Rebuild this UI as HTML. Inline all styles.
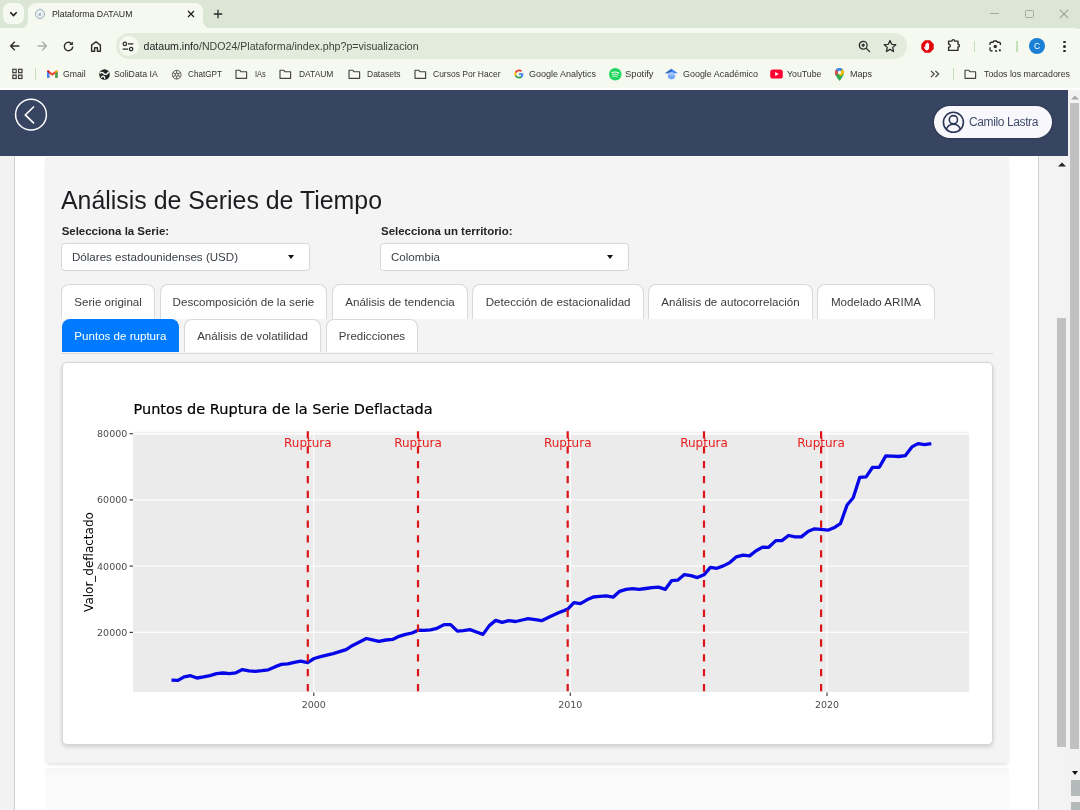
<!DOCTYPE html>
<html lang="es">
<head>
<meta charset="utf-8">
<title>Plataforma DATAUM</title>
<style>
*{box-sizing:border-box;margin:0;padding:0}
html,body{width:1080px;height:810px;overflow:hidden;background:#fff}
body{position:relative;font-family:"Liberation Sans",sans-serif;color:#212529}
.abs{position:absolute}
.ic{position:absolute;overflow:visible}
/* ---------- browser chrome ---------- */
#tabstrip{left:0;top:0;width:1080px;height:29px;background:#dce6d5}
#tabsearch{left:3px;top:3px;width:21px;height:21px;border-radius:7px;background:#f6f9ef}
#tab{left:28px;top:3px;width:175px;height:26px;background:#f6f9ef;border-radius:8px 8px 0 0}
#tab:before,#tab:after{content:"";position:absolute;bottom:0;width:8px;height:8px}
#tab:before{left:-8px;background:radial-gradient(circle at 0 0,rgba(246,249,239,0) 7.5px,#f6f9ef 8px)}
#tab:after{right:-8px;background:radial-gradient(circle at 100% 0,rgba(246,249,239,0) 7.5px,#f6f9ef 8px)}
#tabtitle{left:52.3px;top:8.2px;transform-origin:0 50%;font-size:9.4px;line-height:11px;color:#1f1f1f;white-space:nowrap}
#toolbar{left:0;top:28px;width:1080px;height:36px;background:#f6f9ef;border-radius:0 5px 0 0}
#urlpill{left:115.5px;top:33px;width:791px;height:26px;border-radius:13px;background:#e3ebdc}
#siteinfo{left:118.5px;top:36px;width:20px;height:20px;border-radius:10px;background:#f6f9ef}
#url{left:143.5px;top:40px;font-size:10.62px;line-height:12px;color:#1f1f1f;white-space:nowrap}
#url span{color:#3d423c}
#bmbar{left:0;top:63px;width:1080px;height:26px;background:#f6f9ef}
#bmline{left:0;top:87.7px;width:1080px;height:2.3px;background:#fdfefd}
.bm{position:absolute;top:68.2px;transform-origin:0 50%;font-size:9.3px;line-height:11px;color:#333;white-space:nowrap}
/* ---------- page ---------- */
#nav{left:0;top:89.7px;width:1068px;height:66.1px;background:#374563}
#sbar-out{left:1068px;top:90px;width:12px;height:720px;background:#f2f2f2}
#leftstrip{left:0;top:156px;width:15px;height:654px;background:#f2f2f2;border-right:1px solid #cfcfcf}
#below{left:44.6px;top:768px;width:964.2px;height:42px;background:linear-gradient(#f7f7f7,#fbfbfb 12px)}
#panel{left:44.6px;top:157px;width:964.2px;height:605.6px;background:#f4f4f4;box-shadow:0 3px 4px -2px rgba(0,0,0,.16)}
#sbar-in{left:1038px;top:156px;width:30px;height:654px;background:#f3f3f3;border-left:1px solid #cfd3d3}
.thumb{position:absolute;background:#c1c1c1}
h1{left:61px;top:185.4px;font-size:24.9px;font-weight:400;color:#1b1d20;white-space:nowrap;line-height:30px}
.lbl{position:absolute;top:224.6px;font-size:11.45px;line-height:13px;font-weight:700;color:#212529;white-space:nowrap}
.sel{position:absolute;top:243.4px;width:248.5px;height:27.7px;background:#fff;border:1px solid #d3d6da;border-radius:3.5px;font-size:11.58px;line-height:26.2px;padding-left:10px;color:#3a4047}
.sel i{position:absolute;right:14.5px;top:10.6px;border:3.7px solid transparent;border-top:4px solid #111;border-bottom:0}
.tab{position:absolute;height:35px;background:#fff;border:1px solid #d9d9d9;border-bottom:0;border-radius:8px 8px 0 0;font-size:11.58px;line-height:34.2px;text-align:center;color:#3c3c3c;white-space:nowrap}
.tab.on{background:#007bff;border-color:#007bff;color:#fff}
#tabline{left:61px;top:352.5px;width:931.5px;height:1px;background:#dadada}
#card{left:61.5px;top:362px;width:931.3px;height:383px;background:#fff;border:1px solid #d6d6d6;border-radius:5px;box-shadow:0 2px 4px rgba(0,0,0,.16)}
</style>
</head>
<body>
<!-- browser chrome -->
<div id="tabstrip" class="abs"></div>
<div id="tabsearch" class="abs"></div>
<div id="tab" class="abs"></div>
<div id="tabtitle" class="abs" style="font-size:9.5px;transform:scaleX(0.9223)">Plataforma DATAUM</div>
<div id="toolbar" class="abs"></div>
<div id="urlpill" class="abs"></div>
<div id="siteinfo" class="abs"></div>
<div id="url" class="abs">dataum.info<span>/NDO24/Plataforma/index.php?p=visualizacion</span></div>
<div id="bmbar" class="abs"></div>
<div id="bmline" class="abs"></div>
<div class="bm" style="left:62.8px;font-size:9.5px;transform:scaleX(0.9149)">Gmail</div>
<div class="bm" style="left:114.4px;font-size:9.5px;transform:scaleX(0.9215)">SoliData IA</div>
<div class="bm" style="left:187.8px;font-size:9.5px;transform:scaleX(0.8584)">ChatGPT</div>
<div class="bm" style="left:254.9px;font-size:9.5px;transform:scaleX(0.7791)">IAs</div>
<div class="bm" style="left:298.9px;font-size:9.5px;transform:scaleX(0.8888)">DATAUM</div>
<div class="bm" style="left:366.5px;font-size:9.5px;transform:scaleX(0.8933)">Datasets</div>
<div class="bm" style="left:432.5px;font-size:9.5px;transform:scaleX(0.894)">Cursos Por Hacer</div>
<div class="bm" style="left:529px;font-size:9.5px;transform:scaleX(0.9468)">Google Analytics</div>
<div class="bm" style="left:625px;font-size:9.5px;transform:scaleX(0.9812)">Spotify</div>
<div class="bm" style="left:682.5px;font-size:9.5px;transform:scaleX(0.9404)">Google Académico</div>
<div class="bm" style="left:786.5px;font-size:9.5px;transform:scaleX(0.9238)">YouTube</div>
<div class="bm" style="left:850px;font-size:9.5px;transform:scaleX(0.9469)">Maps</div>
<div class="bm" style="left:984px;font-size:9.5px;transform:scaleX(0.9254)">Todos los marcadores</div>
<svg class="ic" style="left:12px;top:68px" width="11" height="12" viewBox="0 0 11 12"><g fill="none" stroke="#3a3a3a" stroke-width="1.2"><rect x=".8" y="1.3" width="3.4" height="3.4"/><rect x="6.6" y="1.3" width="3.4" height="3.4"/><rect x=".8" y="7.1" width="3.4" height="3.4"/><rect x="6.6" y="7.1" width="3.4" height="3.4"/></g></svg>
<div class="abs" style="left:35px;top:68px;width:1.3px;height:11.5px;background:#c4e2b8"></div>
<div class="abs" style="left:952.5px;top:68px;width:1.3px;height:11.5px;background:#c4e2b8"></div>
<svg class="ic" style="left:46.6px;top:69.8px" width="10.6" height="8.2" viewBox="0 0 11 9" preserveAspectRatio="none"><path d="M0 8.5V1.2L1.2 .3 5.5 3.6 9.8 .3 11 1.2V8.5H8.6V3.9L5.5 6.2 2.4 3.9V8.5z" fill="#ea4335"/><path d="M0 8.5V1.6L2.4 3.9V8.5z" fill="#4285f4"/><path d="M11 8.5V1.6L8.6 3.9V8.5z" fill="#34a853"/><path d="M8.6 3.9 11 1.6V1.2L9.8 .3 8.6 1.2z" fill="#fbbc04"/><path d="M2.4 3.9 0 1.6V1.2L1.2 .3 2.4 1.2z" fill="#c5221f"/></svg>
<svg class="ic" style="left:98.7px;top:68.7px" width="11" height="11" viewBox="0 0 11 11"><circle cx="5.5" cy="5.5" r="5.3" fill="#222426"/><path d="M1.3 3.9c1.3-.9 2.7-.4 3.3.5.6 1 1.7 1.3 3 .7.7-.3 1.3-.9 1.7-1.7" fill="none" stroke="#f6f9ef" stroke-width="1.5" stroke-linecap="round"/><path d="M2.5 8.3c.5-.9 1.3-1.2 2.2-.9.8.3 1.2 1 1 1.9" fill="none" stroke="#f6f9ef" stroke-width="1.3" stroke-linecap="round"/></svg>
<svg class="ic" style="left:171.3px;top:68.5px" width="11.4" height="11.4" viewBox="0 0 12 12"><g fill="none" stroke="#555" stroke-width="1"><circle cx="6" cy="6" r="4.6"/><path d="M6 1.4v3.2M10 3.7 7.2 5.3M10 8.3 7.2 6.7M6 10.6V7.4M2 8.3 4.8 6.7M2 3.7 4.8 5.3"/><circle cx="6" cy="6" r="1.7"/></g></svg>
<svg class="ic" style="left:235.2px;top:67.5px" width="13" height="12" viewBox="0 0 13 12"><path d="M1 2.2h3.6l1.3 1.5H11.6v6.6H1z" fill="none" stroke="#444" stroke-width="1.15" stroke-linejoin="round"/></svg>
<svg class="ic" style="left:279.4px;top:67.5px" width="13" height="12" viewBox="0 0 13 12"><path d="M1 2.2h3.6l1.3 1.5H11.6v6.6H1z" fill="none" stroke="#444" stroke-width="1.15" stroke-linejoin="round"/></svg>
<svg class="ic" style="left:347.5px;top:67.5px" width="13" height="12" viewBox="0 0 13 12"><path d="M1 2.2h3.6l1.3 1.5H11.6v6.6H1z" fill="none" stroke="#444" stroke-width="1.15" stroke-linejoin="round"/></svg>
<svg class="ic" style="left:414px;top:67.5px" width="13" height="12" viewBox="0 0 13 12"><path d="M1 2.2h3.6l1.3 1.5H11.6v6.6H1z" fill="none" stroke="#444" stroke-width="1.15" stroke-linejoin="round"/></svg>
<svg class="ic" style="left:964px;top:67.5px" width="13" height="12" viewBox="0 0 13 12"><path d="M1 2.2h3.6l1.3 1.5H11.6v6.6H1z" fill="none" stroke="#444" stroke-width="1.15" stroke-linejoin="round"/></svg>
<svg class="ic" style="left:513.5px;top:69px" width="10" height="10" viewBox="0 0 48 48"><path fill="#4285f4" d="M45.1 24.5c0-1.6-.1-3.1-.4-4.5H24v8.5h11.8c-.5 2.8-2.1 5.1-4.4 6.7v5.5h7.1c4.2-3.8 6.6-9.5 6.6-16.2z"/><path fill="#34a853" d="M24 46c5.9 0 10.9-2 14.5-5.3l-7.1-5.5c-2 1.3-4.5 2.1-7.4 2.1-5.7 0-10.5-3.8-12.3-9H4.4v5.7C8 41.1 15.4 46 24 46z"/><path fill="#fbbc05" d="M11.7 28.3c-.4-1.3-.7-2.8-.7-4.3s.3-2.9.7-4.3V14H4.4C2.9 17 2 20.4 2 24s.9 7 2.4 10z"/><path fill="#ea4335" d="M24 10.7c3.2 0 6.1 1.1 8.4 3.3l6.3-6.3C34.9 4.2 29.9 2 24 2 15.4 2 8 6.9 4.4 14l7.3 5.7c1.8-5.2 6.6-9 12.3-9z"/></svg>
<svg class="ic" style="left:609px;top:67.5px" width="12.5" height="12.5" viewBox="0 0 12 12"><circle cx="6" cy="6" r="6" fill="#1ed760"/><g fill="none" stroke="#f6f9ef" stroke-linecap="round"><path d="M2.8 4.3c2.2-.7 4.6-.5 6.5.6" stroke-width="1.15"/><path d="M3.1 6.2c1.9-.6 3.9-.4 5.5.6" stroke-width=".95"/><path d="M3.4 8c1.5-.4 3-.3 4.3.5" stroke-width=".8"/></g></svg>
<svg class="ic" style="left:664.5px;top:68px" width="13" height="12" viewBox="0 0 13 12"><path d="M6.5 .8 0 5.3h13z" fill="#4285f4"/><path d="M6.5 .8 0 5.3h6.5z" fill="#356ac3"/><circle cx="6.5" cy="7.6" r="3.7" fill="#a0c3ff"/><path d="M2.8 7.6a3.7 3.7 0 0 0 7.4 0z" fill="#76a7fa"/></svg>
<svg class="ic" style="left:769.5px;top:69px" width="13" height="10" viewBox="0 0 13 10"><rect x=".2" y=".4" width="12.6" height="9.2" rx="2.6" fill="#f03"/><path d="M5.2 2.9v4.2L8.8 5z" fill="#fff"/></svg>
<svg class="ic" style="left:834.5px;top:67.5px" width="9" height="13" viewBox="0 0 9 13"><path d="M4.5 0C2 0 0 2 0 4.5 0 7.7 4.5 13 4.5 13S9 7.7 9 4.5C9 2 7 0 4.5 0z" fill="#34a853"/><path d="M4.5 0C2 0 0 2 0 4.5c0 .9.3 1.9.800 2.9L7.5 1.2A4.5 4.5 0 0 0 4.5 0z" fill="#4285f4"/><path d="M1.3 1.4A4.48 4.48 0 0 0 0 4.5c0 .9.3 1.9.800 2.9L3.4 4.9z" fill="#ea4335" opacity=".95"/><path d="M7.5 1.2 3 5.5l2.8 2.8C7.4 6.4 9 5.9 9 4.5c0-1.3-.6-2.5-1.5-3.3z" fill="#fbbc04"/><circle cx="4.5" cy="4.4" r="1.6" fill="#f6f9ef"/></svg>
<svg class="ic" style="left:930px;top:69.5px" width="10" height="8" viewBox="0 0 10 8"><path d="M1 .8 4.2 4 1 7.2M5.4 .8 8.6 4 5.4 7.2" fill="none" stroke="#444" stroke-width="1.2"/></svg>
<svg class="ic" style="left:9px;top:11px" width="9" height="6" viewBox="0 0 9 6"><path d="M1.3 1.3 4.5 4.5 7.7 1.3" fill="none" stroke="#1f1f1f" stroke-width="1.6"/></svg>
<svg class="ic" style="left:34px;top:7.5px" width="12" height="12" viewBox="0 0 12 12"><circle cx="6" cy="6" r="4.5" fill="#eaf1f3" stroke="#93a6b2" stroke-width=".9"/><path d="M6 .7v1M6 10.3v1" stroke="#93a6b2" stroke-width=".8"/><path d="M4.3 7.4c.1-1.6 1.2-2.6 2.7-2.5-.5.9-.4 1.7.3 2.5z" fill="#93a4ae"/></svg>
<svg class="ic" style="left:187px;top:10px" width="8" height="8" viewBox="0 0 8 8"><path d="M1 1 7 7M7 1 1 7" stroke="#1f1f1f" stroke-width="1.3"/></svg>
<svg class="ic" style="left:213px;top:8.8px" width="10" height="10" viewBox="0 0 10 10"><path d="M5 .8v8.4M.8 5h8.4" stroke="#2a2a2a" stroke-width="1.3"/></svg>
<div class="abs" style="left:990px;top:13.3px;width:9px;height:1.2px;background:#a3aca1"></div>
<div class="abs" style="left:1025px;top:9.8px;width:8.5px;height:8px;border:1.2px solid #a3aca1;border-radius:1.5px"></div>
<svg class="ic" style="left:1058.5px;top:9px" width="10" height="10" viewBox="0 0 10 10"><path d="M.8 .8 9.2 9.2M9.2 .8 .8 9.2" stroke="#99a297" stroke-width="1.1"/></svg>
<svg class="ic" style="left:9px;top:40px" width="12" height="12" viewBox="0 0 12 12"><path d="M10.3 6H1.8M5.8 1.8 1.6 6l4.2 4.2" fill="none" stroke="#2c2c2c" stroke-width="1.35"/></svg>
<svg class="ic" style="left:36px;top:40px" width="12" height="12" viewBox="0 0 12 12"><path d="M1.7 6h8.5M6.2 1.8 10.4 6 6.2 10.2" fill="none" stroke="#a9aea6" stroke-width="1.35"/></svg>
<svg class="ic" style="left:62px;top:39.5px" width="13" height="13" viewBox="0 0 13 13"><path d="M10.7 6.5a4.2 4.2 0 1 1-1.4-3.1" fill="none" stroke="#2c2c2c" stroke-width="1.4"/><path d="M10.9 1.5v3.6H7.3z" fill="#2c2c2c"/></svg>
<svg class="ic" style="left:90px;top:39.5px" width="12" height="13" viewBox="0 0 12 13"><path d="M1.6 11.3V5.1L6 1.7l4.4 3.4v6.2H7.4V7.8H4.6v3.5z" fill="none" stroke="#2c2c2c" stroke-width="1.4" stroke-linejoin="round"/></svg>
<svg class="ic" style="left:122px;top:40.5px" width="12" height="11" viewBox="0 0 12 11"><g fill="none" stroke="#2c2c2c" stroke-width="1.3"><circle cx="2.9" cy="2.9" r="1.7"/><path d="M6 2.9h5.3"/><circle cx="9.1" cy="8.1" r="1.7"/><path d="M.7 8.1H6"/></g></svg>
<svg class="ic" style="left:858px;top:39.5px" width="13" height="13" viewBox="0 0 13 13"><g fill="none" stroke="#2c2c2c" stroke-width="1.3"><circle cx="5.2" cy="5.2" r="3.9"/><path d="M8.1 8.1 12 12M3.4 5.2h3.6M5.2 3.4v3.6"/></g></svg>
<svg class="ic" style="left:882.5px;top:39px" width="14" height="14" viewBox="0 0 14 14"><path d="M7 1.5 8.7 5.3 12.8 5.7 9.7 8.4 10.6 12.5 7 10.4 3.4 12.5 4.3 8.4 1.2 5.7 5.3 5.3z" fill="none" stroke="#2c2c2c" stroke-width="1.25" stroke-linejoin="round"/></svg>
<svg class="ic" style="left:920.5px;top:39.5px" width="13" height="13" viewBox="0 0 13 13"><path d="M4 .3h5L12.7 4v5L9 12.7H4L.3 9V4z" fill="#e0060b"/><path d="M4.3 7.6V4.5c0-.7.9-.7.9 0V3.4c0-.7 1-.7 1 0v-.300c0-.7 1-.7 1 0v.600c0-.7.9-.7.9 0v3.9c0 1.8-.9 2.8-2.2 2.8-1.1 0-1.6-.5-2.1-1.4L3.1 7.4c-.3-.6.4-1 .8-.5z" fill="#fff"/></svg>
<svg class="ic" style="left:947.3px;top:38.3px" width="14" height="14" viewBox="0 0 14 14"><path d="M1.6 3.1H5c-.1-1.9 2.7-1.9 2.6 0H11v3.2c1.9-.1 1.9 2.7 0 2.6v3.5H1.6V9.2c2.3.1 2.3-3.1 0-3z" fill="none" stroke="#2c2c2c" stroke-width="1.35" stroke-linejoin="round"/></svg>
<div class="abs" style="left:974px;top:41px;width:1.3px;height:10.5px;background:#c4e2b8"></div>
<div class="abs" style="left:1016.3px;top:41px;width:1.3px;height:10.5px;background:#c4e2b8"></div>
<svg class="ic" style="left:988.5px;top:40px" width="13" height="12" viewBox="0 0 13 12"><g fill="none" stroke="#2c2c2c" stroke-width="1.35"><path d="M1 5V3.6C1 2.8 1.6 2.2 2.4 2.2h1.5L4.9 1h2.6l1 1.2H10c.8 0 1.4.6 1.4 1.4V5M1 7.2v2.4c0 .8.6 1.4 1.4 1.4h1.1M6 11h2.2"/></g><circle cx="6.3" cy="6.5" r="1.7" fill="#2c2c2c"/><circle cx="10.9" cy="10.3" r="1.1" fill="#2c2c2c"/></svg>
<div class="abs" style="left:1029px;top:38px;width:16px;height:16px;border-radius:8px;background:#1a80d6;color:#fff;font-size:8.5px;line-height:16px;text-align:center">C</div>
<div class="abs" style="left:1063.3px;top:40.5px;width:2.4px;height:2.4px;border-radius:2px;background:#2c2c2c"></div>
<div class="abs" style="left:1063.3px;top:45.2px;width:2.4px;height:2.4px;border-radius:2px;background:#2c2c2c"></div>
<div class="abs" style="left:1063.3px;top:49.9px;width:2.4px;height:2.4px;border-radius:2px;background:#2c2c2c"></div>
<!-- page -->
<div id="nav" class="abs"></div>
<div id="sbar-out" class="abs"></div>
<div id="leftstrip" class="abs"></div>
<div id="below" class="abs"></div>
<div id="panel" class="abs"></div>
<div id="sbar-in" class="abs"></div>
<div class="thumb" style="left:1057px;top:318px;width:9px;height:428.5px"></div>
<div class="thumb" style="left:1069.5px;top:103px;width:9.5px;height:645.5px"></div>
<svg class="ic" style="left:1058px;top:162px" width="8" height="5" viewBox="0 0 8 5"><path d="M0 4.5 4 .5 8 4.5z" fill="#222"/></svg>
<svg class="ic" style="left:1070.5px;top:94.5px" width="8" height="5" viewBox="0 0 8 5"><path d="M0 4.5 4 .5 8 4.5z" fill="#a9a9a9"/></svg>
<svg class="ic" style="left:1071.5px;top:770.5px" width="6" height="4" viewBox="0 0 6 4"><path d="M0 0h6L3 4z" fill="#111"/></svg>
<div class="abs" style="left:1071px;top:779.5px;width:9px;height:16.5px;background:#b4baba"></div>
<div class="abs" style="left:1071px;top:802px;width:9px;height:8px;background:#b4baba"></div>
<svg class="ic" style="left:14px;top:98px" width="34" height="34" viewBox="0 0 34 34"><circle cx="17" cy="16.7" r="15.4" fill="none" stroke="#fff" stroke-width="1.5"/><path d="M20 8.5 11.3 16.9 20 25.3" fill="none" stroke="#fff" stroke-width="1.6" stroke-linejoin="miter"/></svg>
<div class="abs" style="left:934px;top:106px;width:118px;height:32px;border-radius:16px;background:#f8f8fc;box-shadow:0 0 3px rgba(0,0,0,.350)"></div>
<svg class="ic" style="left:942px;top:110.5px" width="23" height="23" viewBox="0 0 23 23"><g fill="none" stroke="#2a3556" stroke-width="1.6"><circle cx="11.4" cy="11.3" r="10"/><circle cx="11.4" cy="8.7" r="4.1"/><path d="M4.4 18.4c1-3.4 3.7-5.1 7-5.1s6 1.7 7 5.1"/></g></svg>
<div class="abs" style="left:969px;top:115.3px;font-size:12px;line-height:14px;color:#414d6b;white-space:nowrap;letter-spacing:-0.387px">Camilo Lastra</div>
<h1 class="abs">Análisis de Series de Tiempo</h1>
<div class="lbl" style="left:61.7px">Selecciona la Serie:</div>
<div class="lbl" style="left:381px">Selecciona un territorio:</div>
<div class="sel" style="left:61px">Dólares estadounidenses (USD)<i></i></div>
<div class="sel" style="left:380px">Colombia<i></i></div>
<div class="tab" style="left:61.2px;top:284px;width:93.8px">Serie original</div>
<div class="tab" style="left:159.5px;top:284px;width:167.8px">Descomposición de la serie</div>
<div class="tab" style="left:331.7px;top:284px;width:136.6px">Análisis de tendencia</div>
<div class="tab" style="left:472.3px;top:284px;width:171.7px">Detección de estacionalidad</div>
<div class="tab" style="left:648.3px;top:284px;width:164.4px">Análisis de autocorrelación</div>
<div class="tab" style="left:817.3px;top:284px;width:117.4px">Modelado ARIMA</div>
<div class="tab on" style="left:61.9px;top:319px;height:33.2px;line-height:33.3px;width:116.9px">Puntos de ruptura</div>
<div class="tab" style="left:184px;top:319px;height:33.2px;line-height:33.3px;width:137px">Análisis de volatilidad</div>
<div class="tab" style="left:325.7px;top:319px;height:33.2px;line-height:33.3px;width:92.6px">Predicciones</div>
<div id="tabline" class="abs"></div>
<div id="card" class="abs"></div>
<svg class="ic" style="left:62px;top:363px" width="929" height="381" viewBox="62 363 929 381" font-family="DejaVu Sans, Liberation Sans, sans-serif">
<rect x="133" y="431.8" width="836.2" height="260.2" fill="#ebebeb"/>
<path d="M133 433.8H969.2" stroke="#fdfdfd" stroke-width="1.9"/>
<path d="M133 499.9H969.2" stroke="#fdfdfd" stroke-width="1.15"/>
<path d="M133 566.1H969.2" stroke="#fdfdfd" stroke-width="1.15"/>
<path d="M133 632.4H969.2" stroke="#fdfdfd" stroke-width="1.15"/>
<path d="M313.75 431.8V692" stroke="#fdfdfd" stroke-width="1.15"/>
<path d="M570.3 431.8V692" stroke="#fdfdfd" stroke-width="1.15"/>
<path d="M827 431.8V692" stroke="#fdfdfd" stroke-width="1.15"/>
<polyline transform="translate(133 432)" points="38.5,248.2 45,248.4 51.1,244.9 57.6,243.7 64,246 70.5,244.9 77,243.6 83.5,241.7 90,241 96.4,241.7 102.9,240.8 109.4,237.6 115.9,238.9 122.4,239.3 128.9,238.7 135.3,237.8 141.8,234.9 148.3,232.4 154.8,231.9 161.3,230.4 167.7,229.1 174.6,230.6 181.1,226.5 187.6,224.7 193.7,223.2 200.1,221.7 206.6,219.7 213.1,217.6 219.6,213.4 226,210.2 233.3,206.5 239.5,207.9 245.7,209.3 253.1,208 259.6,207.4 266.1,204.3 272.6,202.4 279,201 285.1,198.2 291.1,198.4 297.6,197.8 304,196.3 311.1,192.6 317.6,192.6 324.4,199.1 330.3,198.7 337,197.6 343.5,200 350,202.4 356.3,193.6 362.7,188.4 369.2,190.4 375.7,188.6 382.7,189.5 389.2,188 395.1,186.7 402.2,187.6 408.7,188.7 416.3,184.9 425.5,180.8 434.8,177.1 440.9,170.6 447.4,171.7 453.9,167.8 460.3,165 466.8,164.3 473.3,163.9 480.1,165.2 486.6,159.3 493.1,157.4 499.6,156.7 506.1,157.4 512.6,156.5 519,155.6 525.5,155.2 532.4,157.3 538.5,148.7 544.6,148.2 551.4,142.6 557.9,143.6 564.4,145.6 570.9,142.8 577.4,135.4 583.9,136.3 590.3,133.9 596.8,130.6 603.4,124.8 610,123.1 616.6,123.9 623.1,118.8 629.6,115.1 635.7,115.3 642.8,108.6 648.9,108.6 655.5,103.5 662.2,104.9 668.3,104.9 675.4,99.2 681.5,96.8 688.1,97.4 694.8,98.2 700.9,95.8 707.4,91.7 714.1,73 720.2,65.8 726.8,45.3 733.1,44.9 739.6,35.3 746.3,35.3 752.8,23.9 759.4,24.1 765.7,24.5 772.2,23.7 778.9,14.9 785,11.6 791.5,12.7 798.3,11.6" fill="none" stroke="#0606e8" stroke-width="3.3" stroke-linejoin="round"/>
<text x="307.8" y="446.5" font-size="12" text-anchor="middle" fill="#e81c1c">Ruptura</text>
<text x="418" y="446.5" font-size="12" text-anchor="middle" fill="#e81c1c">Ruptura</text>
<text x="567.7" y="446.5" font-size="12" text-anchor="middle" fill="#e81c1c">Ruptura</text>
<text x="704" y="446.5" font-size="12" text-anchor="middle" fill="#e81c1c">Ruptura</text>
<text x="821.1" y="446.5" font-size="12" text-anchor="middle" fill="#e81c1c">Ruptura</text>
<path d="M307.8 431.3V692" stroke="#dc1418" stroke-width="2.2" stroke-dasharray="7.3 7.56"/>
<path d="M418 431.3V692" stroke="#dc1418" stroke-width="2.2" stroke-dasharray="7.3 7.56"/>
<path d="M567.7 431.3V692" stroke="#dc1418" stroke-width="2.2" stroke-dasharray="7.3 7.56"/>
<path d="M704 431.3V692" stroke="#dc1418" stroke-width="2.2" stroke-dasharray="7.3 7.56"/>
<path d="M821.1 431.3V692" stroke="#dc1418" stroke-width="2.2" stroke-dasharray="7.3 7.56"/>
<text x="127.3" y="437.2" font-size="9.5" text-anchor="end" fill="#4d4d4d">80000</text>
<path d="M129.5 433.7H133" stroke="#444" stroke-width="1.2"/>
<text x="127.3" y="503.4" font-size="9.5" text-anchor="end" fill="#4d4d4d">60000</text>
<path d="M129.5 499.9H133" stroke="#444" stroke-width="1.2"/>
<text x="127.3" y="569.6" font-size="9.5" text-anchor="end" fill="#4d4d4d">40000</text>
<path d="M129.5 566.1H133" stroke="#444" stroke-width="1.2"/>
<text x="127.3" y="635.9" font-size="9.5" text-anchor="end" fill="#4d4d4d">20000</text>
<path d="M129.5 632.4H133" stroke="#444" stroke-width="1.2"/>
<text x="313.75" y="708" font-size="9.5" text-anchor="middle" fill="#4d4d4d">2000</text>
<path d="M313.75 692.5V696" stroke="#444" stroke-width="1.2"/>
<text x="570.3" y="708" font-size="9.5" text-anchor="middle" fill="#4d4d4d">2010</text>
<path d="M570.3 692.5V696" stroke="#444" stroke-width="1.2"/>
<text x="827" y="708" font-size="9.5" text-anchor="middle" fill="#4d4d4d">2020</text>
<path d="M827 692.5V696" stroke="#444" stroke-width="1.2"/>
<text x="133.5" y="414.3" font-size="14.5" fill="#000" stroke="#000" stroke-width=".2">Puntos de Ruptura de la Serie Deflactada</text>
<text transform="translate(93 562) rotate(-90)" font-size="12" text-anchor="middle" fill="#000">Valor_deflactado</text>
</svg>
</body>
</html>
